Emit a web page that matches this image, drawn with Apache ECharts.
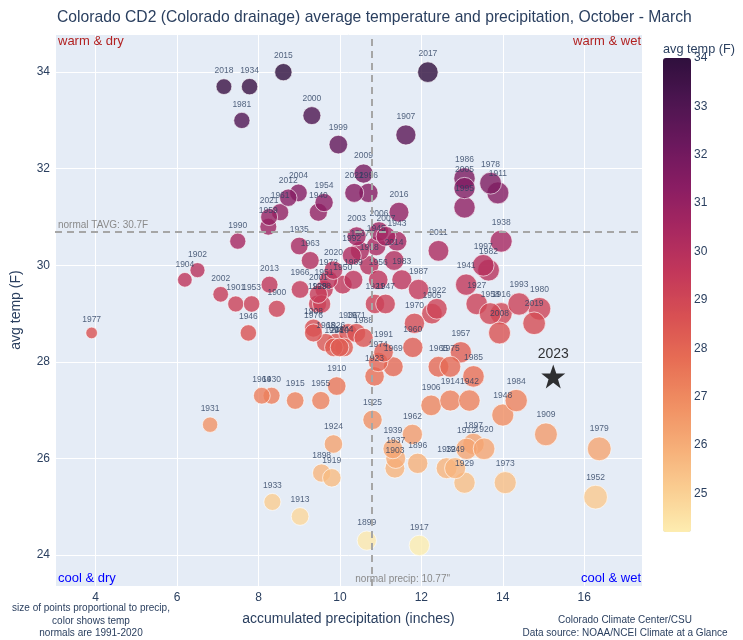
<!DOCTYPE html>
<html><head><meta charset="utf-8">
<script src="https://cdn.jsdelivr.net/npm/echarts@6/dist/echarts.min.js"></script>
<style>html,body{margin:0;padding:0;background:#fff}#c{width:743px;height:640px}</style>
</head><body><div id="c"></div>
<script>
const years = [1896,1897,1898,1899,1900,1901,1902,1903,1904,1905,1906,1907,1908,1909,1910,1911,1912,1913,1914,1915,1916,1917,1918,1919,1920,1921,1922,1923,1924,1925,1926,1927,1928,1929,1930,1931,1932,1933,1934,1935,1936,1937,1938,1939,1940,1941,1942,1943,1944,1945,1946,1947,1948,1949,1950,1951,1952,1953,1954,1955,1956,1957,1958,1959,1960,1961,1962,1963,1964,1965,1966,1967,1968,1969,1970,1971,1972,1973,1974,1975,1976,1977,1978,1979,1980,1981,1982,1983,1984,1985,1986,1987,1988,1989,1990,1991,1992,1993,1994,1995,1996,1997,1998,1999,2000,2001,2002,2003,2004,2005,2006,2007,2008,2009,2010,2011,2012,2013,2014,2015,2016,2017,2018,2019,2020,2021,2022];
const precip = [11.91,13.28,9.55,10.66,8.45,7.44,6.50,11.35,6.19,12.26,12.24,11.62,9.35,15.06,9.92,13.88,13.11,9.02,12.71,8.90,13.96,11.95,10.72,9.80,13.54,10.86,12.38,10.85,9.84,10.80,9.90,13.36,9.45,13.06,8.32,6.81,12.62,8.34,7.78,9.00,10.20,11.37,13.96,11.30,9.47,13.10,13.18,11.40,10.10,10.89,7.75,11.12,14.00,12.83,10.07,9.61,16.28,7.83,9.61,9.53,10.94,12.97,13.69,8.24,11.79,8.53,11.78,9.27,8.08,12.42,9.02,10.49,9.65,11.31,11.83,10.40,9.72,14.06,10.94,12.71,9.35,3.90,13.70,16.37,14.90,7.59,13.65,11.52,14.33,13.28,13.06,11.93,10.58,10.33,7.49,11.07,10.29,14.40,9.85,13.06,10.70,13.52,9.55,9.96,9.31,9.47,7.07,10.41,8.98,13.06,10.96,11.13,13.92,10.58,9.99,12.42,8.73,8.27,11.33,8.61,11.45,12.16,7.15,14.77,9.84,8.26,10.35];
const temp = [25.9,26.3,25.7,24.3,29.1,29.2,29.9,25.8,29.7,29.0,27.1,32.7,28.7,26.5,27.5,31.5,26.2,24.8,27.2,27.2,29.0,24.2,30.0,25.6,26.2,29.2,29.1,27.7,26.3,26.8,28.4,29.2,29.2,25.5,27.3,26.7,25.8,25.1,33.7,30.4,28.6,26.0,30.5,26.2,31.1,29.6,27.2,30.5,28.3,30.4,28.6,29.2,26.9,25.8,29.6,29.5,25.2,29.2,31.3,27.2,29.7,28.2,29.0,30.8,28.3,31.1,26.5,30.1,27.3,27.9,29.5,30.3,28.4,27.9,28.8,28.6,29.7,25.5,28.0,27.9,28.6,28.6,31.7,26.2,29.1,33.0,29.9,29.7,27.2,27.7,31.8,29.5,28.5,29.7,30.5,28.2,30.2,29.2,28.3,31.2,31.5,30.0,29.2,32.5,33.1,29.4,29.4,30.6,31.5,31.6,30.7,30.6,28.6,31.9,28.3,30.3,31.4,29.6,30.1,34.0,31.1,34.0,33.7,28.8,29.9,31.0,31.5];
const highlightYear = ['2023'];
const highlightPrecip = [15.24];
const highlightTemp = [27.7];
const NORMAL_PRECIP = 10.77;
const NORMAL_TAVG = 30.7;
const X_MIN = 3.0, X_MAX = 17.42, Y_MIN = 23.36, Y_MAX = 34.79;

const MATTER = ['rgb(253,237,176)','rgb(250,205,145)','rgb(246,173,119)','rgb(240,142,98)','rgb(231,109,84)','rgb(216,80,83)','rgb(195,56,90)','rgb(168,40,96)','rgb(138,29,99)','rgb(107,24,93)','rgb(76,21,80)','rgb(47,15,61)'];
const FONT = 'Liberation Sans, Arial, sans-serif';
const INK = '#2a3f5f';

const tMin = Math.min(...temp), tMax = Math.max(...temp);
const BAR_TOP = 58, BAR_H = 474;
const unitPx = BAR_H / (tMax - tMin);
const cbAxisMin = Math.floor(tMin);

const pts = years.map((y, i) => [precip[i], temp[i], y]);
const star = highlightYear.map((y, i) => [highlightPrecip[i], highlightTemp[i], y]);

const chart = echarts.init(document.getElementById('c'), null, {renderer: 'canvas'});
const option = {
  animation: false,
  backgroundColor: '#ffffff',
  textStyle: {fontFamily: FONT},
  title: [{
    text: 'Colorado CD2 (Colorado drainage) average temperature and precipitation, October - March',
    left: 57, top: 10, padding: 0,
    textStyle: {fontSize: 15.7, fontWeight: 'normal', color: INK, fontFamily: FONT}
  }],
  grid: [
    {left: 55, right: 101, top: 34, bottom: 54, show: true, backgroundColor: '#E5ECF6', borderWidth: 0},
    {left: 663, width: 28, top: BAR_TOP, height: unitPx * (tMax - cbAxisMin)}
  ],
  xAxis: [{
    type: 'value', gridIndex: 0, min: X_MIN, max: X_MAX, splitNumber: 7, minInterval: 2, maxInterval: 2,
    name: 'accumulated precipitation (inches)', nameLocation: 'middle', nameGap: 26,
    nameTextStyle: {fontSize: 14, color: INK},
    axisLine: {show: false}, axisTick: {show: false},
    axisLabel: {color: INK, fontSize: 12, margin: 6, showMinLabel: false, showMaxLabel: false},
    splitLine: {lineStyle: {color: '#ffffff', width: 1}}
  }, {
    type: 'value', gridIndex: 1, show: false
  }],
  yAxis: [{
    type: 'value', gridIndex: 0, min: Y_MIN, max: Y_MAX, splitNumber: 6, minInterval: 2, maxInterval: 2,
    name: 'avg temp (F)', nameLocation: 'middle', nameGap: 32, nameRotate: 90,
    nameTextStyle: {fontSize: 14, color: INK},
    axisLine: {show: false}, axisTick: {show: false},
    axisLabel: {color: INK, fontSize: 12, margin: 5, showMinLabel: false, showMaxLabel: false},
    splitLine: {lineStyle: {color: '#ffffff', width: 1}}
  }, {
    type: 'value', gridIndex: 1, position: 'right', min: cbAxisMin, max: Math.ceil(tMax), interval: 1,
    axisLine: {show: false}, axisTick: {show: false}, splitLine: {show: false},
    axisLabel: {color: INK, fontSize: 12, margin: 3, showMinLabel: false}
  }],
  visualMap: {
    type: 'continuous', seriesIndex: 0, dimension: 1, min: tMin, max: tMax,
    inRange: {color: MATTER}, left: 663, top: BAR_TOP, itemWidth: 28, itemHeight: BAR_H,
    padding: 0, calculable: false, text: null, showLabel: false, hoverLink: false
  },
  graphic: [
    {type: 'text', x: 663, y: 49, style: {text: 'avg temp (F)', fontSize: 12.7, fontFamily: FONT, fill: INK, verticalAlign: 'middle'}},
    {type: 'text', x: 91, y: 602, style: {text: 'size of points proportional to precip,\ncolor shows temp\nnormals are 1991-2020', fontSize: 10, lineHeight: 12.5, fontFamily: FONT, fill: INK, align: 'center'}},
    {type: 'text', x: 625, y: 614, style: {text: 'Colorado Climate Center/CSU\nData source: NOAA/NCEI Climate at a Glance', fontSize: 10, lineHeight: 12.5, fontFamily: FONT, fill: INK, align: 'center'}}
  ],
  series: [{
    type: 'scatter', xAxisIndex: 0, yAxisIndex: 0,
    data: pts,
    symbolSize: v => 5.9 * Math.sqrt(v[0]),
    itemStyle: {opacity: 0.8, borderColor: '#ffffff', borderWidth: 0.8},
    label: {show: true, position: 'top', distance: 3, formatter: p => p.value[2], fontSize: 8.5, color: INK, fontFamily: FONT},
    emphasis: {disabled: true}
  }, {
    type: 'scatter', xAxisIndex: 0, yAxisIndex: 0,
    data: star,
    symbol: 'path://M12,0 L14.9,8.3 L23.4,8.3 L16.5,13.4 L19.1,21.7 L12,16.6 L4.9,21.7 L7.5,13.4 L0.6,8.3 L9.1,8.3 Z',
    symbolSize: 24, z: 5,
    itemStyle: {color: '#000000'},
    label: {show: true, position: 'top', distance: 3, formatter: p => p.value[2], fontSize: 14, color: '#000000', fontFamily: FONT},
    emphasis: {disabled: true},
    markLine: {
      silent: true, symbol: 'none', animation: false,
      lineStyle: {type: [7, 5], color: '#a6a6a6', width: 2},
      label: {show: false},
      data: [{xAxis: NORMAL_PRECIP}, {yAxis: NORMAL_TAVG}]
    },
    markPoint: {
      silent: true, symbol: 'circle', symbolSize: 0, animation: false,
      data: [
        {coord: [X_MIN, Y_MAX], label: {formatter: 'warm & dry', position: [0, 0], align: 'left', verticalAlign: 'top', offset: [3, 1], color: '#b22222', fontSize: 13}},
        {coord: [X_MAX, Y_MAX], label: {formatter: 'warm & wet', position: [0, 0], align: 'right', verticalAlign: 'top', offset: [-1, 1], color: '#b22222', fontSize: 13}},
        {coord: [X_MIN, Y_MIN], label: {formatter: 'cool & dry', position: [0, 0], align: 'left', verticalAlign: 'bottom', offset: [3, -1], color: '#0000ff', fontSize: 13}},
        {coord: [X_MAX, Y_MIN], label: {formatter: 'cool & wet', position: [0, 0], align: 'right', verticalAlign: 'bottom', offset: [-1, -1], color: '#0000ff', fontSize: 13}},
        {coord: [X_MIN, NORMAL_TAVG], label: {formatter: 'normal TAVG: 30.7F', position: [0, 0], align: 'left', verticalAlign: 'bottom', offset: [3, -1], color: '#8a8a8a', fontSize: 10}},
        {coord: [NORMAL_PRECIP, Y_MIN], label: {formatter: 'normal precip: 10.77"', position: [0, 0], align: 'left', verticalAlign: 'bottom', offset: [-16, -2], color: '#8a8a8a', fontSize: 10}}
      ]
    }
  }]
};
chart.setOption(option);
</script>
</body></html>
